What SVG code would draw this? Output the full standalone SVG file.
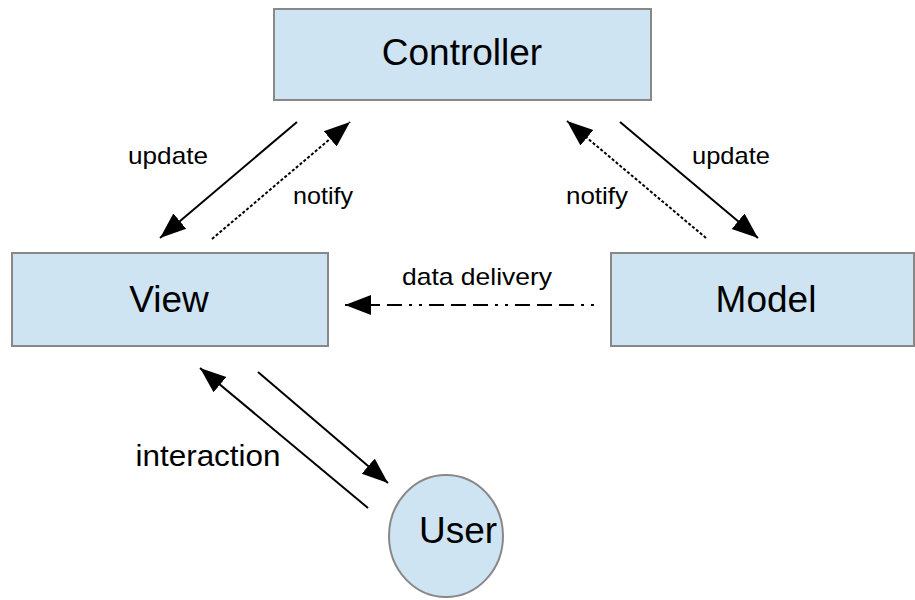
<svg xmlns="http://www.w3.org/2000/svg" width="915" height="600" viewBox="0 0 915 600">
<style>
.node{fill:#cfe4f2;stroke:#888;stroke-width:2}
.nl{font-family:"Liberation Sans",Arial,sans-serif;font-size:37px;fill:#000;text-anchor:middle}
.el{font-family:"Liberation Sans",Arial,sans-serif;font-size:24px;fill:#000;text-anchor:middle}
.c{stroke:#000;stroke-width:2;fill:none}
.dot{stroke-dasharray:3 2}
.dd{stroke-dasharray:3 7 3 7 15 7 15 7 15 7}
</style>
<defs>
<marker id="ah" markerUnits="userSpaceOnUse" markerWidth="28" markerHeight="22" refX="26" refY="11" orient="auto">
<path d="M0,1 L26,11 L0,21 Z" fill="#000"/>
</marker>
</defs>
<rect width="915" height="600" fill="#fff"/>
<g id="controller"><rect class="node" x="274" y="9" width="377" height="91"/><text class="nl" x="462" y="65">Controller</text></g>
<g id="view"><rect class="node" x="12" y="253" width="316" height="93"/><text class="nl" x="169" y="312">View</text></g>
<g id="model"><rect class="node" x="611" y="253" width="303" height="93"/><text class="nl" x="766" y="312">Model</text></g>
<g id="user"><ellipse class="node" cx="446" cy="536" rx="57" ry="61"/><text class="nl" x="458" y="543">User</text></g>
<g id="connectors">
<line class="c" x1="297" y1="122" x2="160" y2="238" marker-end="url(#ah)"/>
<line class="c dot" x1="212" y1="239" x2="350" y2="122" marker-end="url(#ah)"/>
<line class="c dot" x1="706" y1="238" x2="567" y2="121" marker-end="url(#ah)"/>
<line class="c" x1="620" y1="122" x2="758" y2="238" marker-end="url(#ah)"/>
<line class="c dd" x1="594" y1="305" x2="345" y2="305" marker-end="url(#ah)"/>
<line class="c" x1="368" y1="508" x2="200" y2="368" marker-end="url(#ah)"/>
<line class="c" x1="258" y1="372" x2="388" y2="483" marker-end="url(#ah)"/>
<text class="el" x="168" y="164" textLength="80" lengthAdjust="spacingAndGlyphs">update</text>
<text class="el" x="323" y="204" textLength="60" lengthAdjust="spacingAndGlyphs">notify</text>
<text class="el" x="597" y="204" textLength="62" lengthAdjust="spacingAndGlyphs">notify</text>
<text class="el" x="731" y="164" textLength="78" lengthAdjust="spacingAndGlyphs">update</text>
<text class="el" x="477" y="285" textLength="150" lengthAdjust="spacingAndGlyphs">data delivery</text>
<text class="el" x="208" y="466" style="font-size:29px" textLength="145" lengthAdjust="spacingAndGlyphs">interaction</text>
</g>
</svg>
